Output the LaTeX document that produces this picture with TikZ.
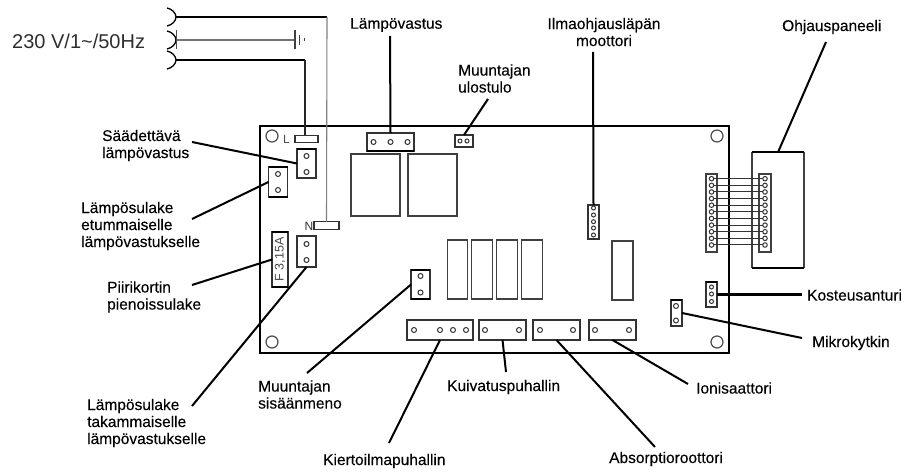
\documentclass[tikz,border=0pt]{standalone}
\usepackage{fontspec}
\setmainfont{Liberation Sans}
\newfontfamily\merkit[FakeBold=0.2]{Liberation Sans}
\tikzset{
    teksti/.style={inner sep=0pt, anchor=west, align=left, text=black, font=\merkit\fontsize{15.5}{17}\selectfont},
    viiva/.style={line width=2pt, black},
    liitin/.style={draw=black!80, line width=1.2pt, fill=white, inner sep=0pt, outer sep=0pt},
    rele/.style={draw=black!75, line width=1.3pt, inner sep=0pt, outer sep=0pt},
    reika/.style={circle, draw=black!80, line width=1pt, fill=white, minimum size=4.5pt, inner sep=0pt, outer sep=0pt},
}
\begin{document}
\begin{tikzpicture}[x=1pt, y=-1pt]

    \useasboundingbox (0,0) rectangle (905,473);

    % Piirikortti
    \node [draw, line width=1.3pt, inner sep=0pt, outer sep=0pt, minimum width=469pt, minimum height=227pt] (kortti) at (494.5,239.5) {};
    \foreach \nimi/\x/\y in {a/272/136, b/717/136, c/272/342, d/717/342}
        \node [circle, draw=black!70, line width=1.2pt, minimum size=12pt, inner sep=0pt] (kolo\nimi) at (\x,\y) {};

    % Releet
    \foreach \nimi/\x/\y/\lev/\kork in {r1/375.5/185/49/62, r2/432.5/185/49/62, r3/457.5/269.5/20.5/59, r4/482/269.5/20.5/59, r5/507/269.5/20.5/59, r6/532/269.5/20.5/59, r7/622.5/270.5/21/59}
        \node [rele, minimum width=\lev pt, minimum height=\kork pt] (\nimi) at (\x,\y) {};

    % Liittimet
    \foreach \nimi/\x/\y/\lev/\kork in {liitinl/306.5/139/23/7.5, liitinn/326.5/225.5/25/7.5, saato/306.5/163.5/19/29, etu/278/182/19/30, taka/306.5/251.5/19/31, sisaan/420.5/284.5/19/29, vastus/390.5/142/47/18, ulos/464/141/18/12, ilma/593.5/222/11/34, kierto/440/330/66/20, kuiva/502.5/330/47/20, absorptio/556.5/330/47/20, ioni/612.5/330/47/20, anturi/711.5/294.5/11/25, kytkin/676.5/313/11/26}
        \node [liitin, minimum width=\lev pt, minimum height=\kork pt] (\nimi) at (\x,\y) {};
    \node [liitin, minimum width=16pt, minimum height=55pt] (sulake) at (280,259.5) {};
    \node [rotate=90, inner sep=0pt, text=black!70, font=\fontsize{12.5}{14}\selectfont] (sulaketeksti) at (280,259.5) {F 3,15A};
    \node [inner sep=0pt, text=black!70, font=\fontsize{12}{14}\selectfont] (merkkil) at (286.5,139.5) {L};
    \node [inner sep=0pt, text=black!80, font=\fontsize{12}{14}\selectfont] (merkkin) at (309,226) {N};

    % Paksut reunat
    \foreach \nimi in {saato, etu, sulake, sisaan, anturi, kytkin}
        \draw [line width=2pt] (\nimi.north west) -- (\nimi.north east);
    \foreach \nimi in {sulake, etu, sisaan, vastus}
        \draw [line width=2pt] (\nimi.south west) -- (\nimi.south east);

    % Reiat
    \foreach \x/\y in {306.5/156, 306.5/172, 278/174, 278/190, 306.5/244, 306.5/260, 420.5/276, 420.5/292.5, 373.5/142, 390.5/142, 407.5/142, 414/330, 440/330, 453/330, 466/330, 485/330, 519/330, 540/330, 573/330, 595/330, 629/330, 676/306, 676/320.5}
        \draw [line width=1pt, black!80] (\x,\y) circle (2.5);
    \foreach \y in {208, 215, 221.7, 228, 235}
        \draw [line width=1pt, black!80] (593.5,\y) circle (2);
    \foreach \x in {460, 467}
        \draw [line width=1pt, black!80] (\x,141) circle (2);
    \foreach \y in {287, 294, 301.5}
        \draw [line width=1pt, black!80] (711.5,\y) circle (2);

    % Ohjauspaneeli ja lattakaapeli
    \node [rele, minimum width=52pt, minimum height=115.5pt] (paneeli) at (778,210) {};
    \draw [line width=2pt] (paneeli.north west) -- (paneeli.north east);
    \draw [line width=2pt] (paneeli.south west) -- (paneeli.south east);
    \node [rele, minimum width=11pt, minimum height=78pt] (kaapelivasen) at (711.5,213) {};
    \node [rele, minimum width=12pt, minimum height=78pt] (kaapelioikea) at (765,213) {};
    \foreach \i in {0,...,10}
    {
        \node [reika] (vasen\i) at (711.5,{178.7+6.63*\i}) {};
        \node [reika] (oikea\i) at (765,{178.7+6.63*\i}) {};
        \draw [line width=1pt, black!80] (vasen\i) -- (oikea\i);
    }

    % Verkkoliitanta
    \node [teksti, text=black!82, font=\fontsize{20}{22}\selectfont] (jannite) at (12,41) {230 V/1\textasciitilde/50Hz};
    \foreach \nimi/\y in {pistoken/17, pistokem/40, pistokel/60}
    {
        \coordinate (\nimi) at (176,\y);
        \draw [line width=1.3pt] ([shift={(-9,-9)}]\nimi) .. controls ([shift={(-4,-8)}]\nimi) and ([shift={(0,-4)}]\nimi) .. (\nimi) .. controls ([shift={(0,4)}]\nimi) and ([shift={(-4,8)}]\nimi) .. ([shift={(-9,9)}]\nimi);
    }
    \coordinate (kulman) at (327,17);
    \coordinate (kulmal) at (305,60);
    \coordinate (maa) at (295,40);
    \draw [line width=2pt] (pistoken) -- (kulman);
    \draw [line width=1.1pt, black!50] (kulman) -- (liitinn.north);
    \draw [line width=2pt] (pistokel) -- (kulmal);
    \draw [line width=1.1pt, black!85] (kulmal) -- (kulmal |- liitinl.north);
    \draw [line width=1.2pt, black!55] (pistokem) -- (maa);
    \draw [line width=1pt, black!70] (176,30) -- (176,49);
    \draw [line width=1.2pt, black!75] (295,30) -- (295,49);
    \draw [line width=1pt, black!75] (299.5,35) -- (299.5,45);
    \draw [line width=1pt, black!75] (304,38) -- (304,41);

    % Tekstit
    \node [teksti] (tvastus) at (350,25) {Lämpövastus};
    \node [teksti] (tulos) at (458,78.5) {Muuntajan\\ulostulo};
    \node [teksti, align=center, anchor=center] (tilma) at (604,32) {Ilmaohjausläpän\\moottori};
    \node [teksti] (tpaneeli) at (782,27) {Ohjauspaneeli};
    \node [teksti] (tsaato) at (102,145.5) {Säädettävä\\lämpövastus};
    \node [teksti] (tetu) at (81,226) {Lämpösulake\\etummaiselle\\lämpövastukselle};
    \node [teksti] (tsulake) at (107,297) {Piirikortin\\pienoissulake};
    \node [teksti] (ttaka) at (87,423) {Lämpösulake\\takammaiselle\\lämpövastukselle};
    \node [teksti] (tsisaan) at (258,394.5) {Muuntajan\\sisäänmeno};
    \node [teksti] (tkierto) at (323,461) {Kiertoilmapuhallin};
    \node [teksti] (tkuiva) at (447,387) {Kuivatuspuhallin};
    \node [teksti] (tabsorptio) at (609,459) {Absorptioroottori};
    \node [teksti] (tioni) at (696,388) {Ionisaattori};
    \node [teksti] (tanturi) at (807,295) {Kosteusanturi};
    \node [teksti] (tkytkin) at (812,343) {Mikrokytkin};

    % Viivojen vapaat paat
    \foreach \nimi/\x/\y in {pvastus/390/36, pulos/488/99, pilma/593/52, ppaneeli/826/42, psaato/192/142, petu/192/219, psulake/192/285, ptaka/192/406, psisaan/307/373, pkierto/389/443, pkuiva/506/372, pabsorptio/655/447, pioni/688/384, pkytkin/802/338, panturi/802/294.5}
        \coordinate (\nimi) at (\x,\y);

    % Viivat
    \foreach \alku/\loppu in {pvastus/vastus.north, pulos/ulos.north, pilma/ilma.north, ppaneeli/paneeli.north, psaato/saato.west, petu/etu.west, psulake/sulake.west, ptaka/taka.south, psisaan/sisaan.west, pkierto/kierto.south, pkuiva/kuiva.south, pabsorptio/absorptio.south, pioni/ioni.south, pkytkin/kytkin.east}
        \draw [viiva] (\alku) -- (\loppu);
    \draw [viiva, line width=3pt] (anturi.east) -- (panturi);

\end{tikzpicture}
\end{document}
